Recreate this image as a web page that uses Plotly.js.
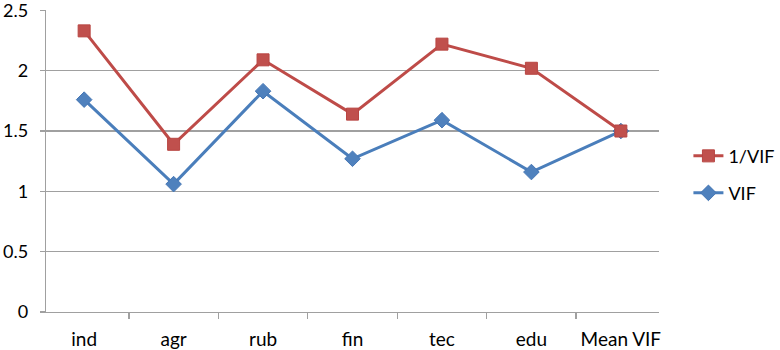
<!DOCTYPE html>
<html>
<head>
<meta charset="utf-8">
<script src="https://cdn.plot.ly/plotly-3.0.1.min.js"></script>
<style>
  html, body { margin: 0; padding: 0; background: #ffffff; }
  #chart { width: 780px; height: 350px; }
</style>
</head>
<body>
<div id="chart"></div>
<script>
var categories = ["ind", "agr", "rub", "fin", "tec", "edu", "Mean VIF"];
var invVif = [2.33, 1.39, 2.09, 1.64, 2.22, 2.02, 1.50];
var vif = [1.76, 1.06, 1.83, 1.27, 1.59, 1.16, 1.50];
var yTickVals = [0, 0.5, 1, 1.5, 2, 2.5];
var yTickText = ["0", "0.5", "1", "1.5", "2", "2.5"];

var FONT = "Lato, 'Liberation Sans', sans-serif";

var traces = [
  {
    x: categories, y: vif, name: "VIF", type: "scatter", mode: "lines+markers",
    line: { color: "#4A7EBB", width: 3 },
    marker: { symbol: "diamond", size: 12, color: "#4F81BD", line: { color: "#4677B5", width: 1 } },
    legend: "legend2"
  },
  {
    x: categories, y: invVif, name: "1/VIF", type: "scatter", mode: "lines+markers",
    line: { color: "#BE4B48", width: 3 },
    marker: { symbol: "square", size: 12, color: "#C0504D", line: { color: "#B84542", width: 1 } },
    legend: "legend"
  }
];

var layout = {
  width: 780, height: 350,
  margin: { l: 46, r: 121, t: 10, b: 38, autoexpand: false },
  paper_bgcolor: "#ffffff", plot_bgcolor: "#ffffff",
  font: { family: FONT, size: 18, color: "#000000" },
  showlegend: true,
  xaxis: {
    type: "category",
    tickson: "boundaries",
    ticks: "outside", ticklen: 6, tickcolor: "#A0A0A0", tickwidth: 1.3,
    ticklabelstandoff: 10,
    showline: true, linecolor: "#A0A0A0", linewidth: 1.3,
    showgrid: false, zeroline: false,
    tickfont: { family: FONT, size: 19, color: "#000000" },
    fixedrange: true
  },
  yaxis: {
    range: [0, 2.503],
    tickvals: yTickVals, ticktext: yTickText,
    ticks: "outside", ticklen: 5, tickcolor: "#A0A0A0", tickwidth: 1.3,
    ticklabelstandoff: 8,
    ticklabeloverflow: "allow",
    showline: true, linecolor: "#A0A0A0", linewidth: 1.3,
    showgrid: true, gridcolor: "#A0A0A0", gridwidth: 1.3,
    zeroline: false,
    tickfont: { family: FONT, size: 18, color: "#000000" },
    fixedrange: true
  },
  legend: {
    x: 1.048, y: 0.516, xanchor: "left", yanchor: "middle",
    bgcolor: "rgba(0,0,0,0)", borderwidth: 0,
    font: { family: FONT, size: 18, color: "#000000" }
  },
  legend2: {
    x: 1.048, y: 0.3935, xanchor: "left", yanchor: "middle",
    bgcolor: "rgba(0,0,0,0)", borderwidth: 0,
    font: { family: FONT, size: 18, color: "#000000" }
  }
};

Plotly.newPlot("chart", traces, layout, { displayModeBar: false, staticPlot: true });
</script>
</body>
</html>
